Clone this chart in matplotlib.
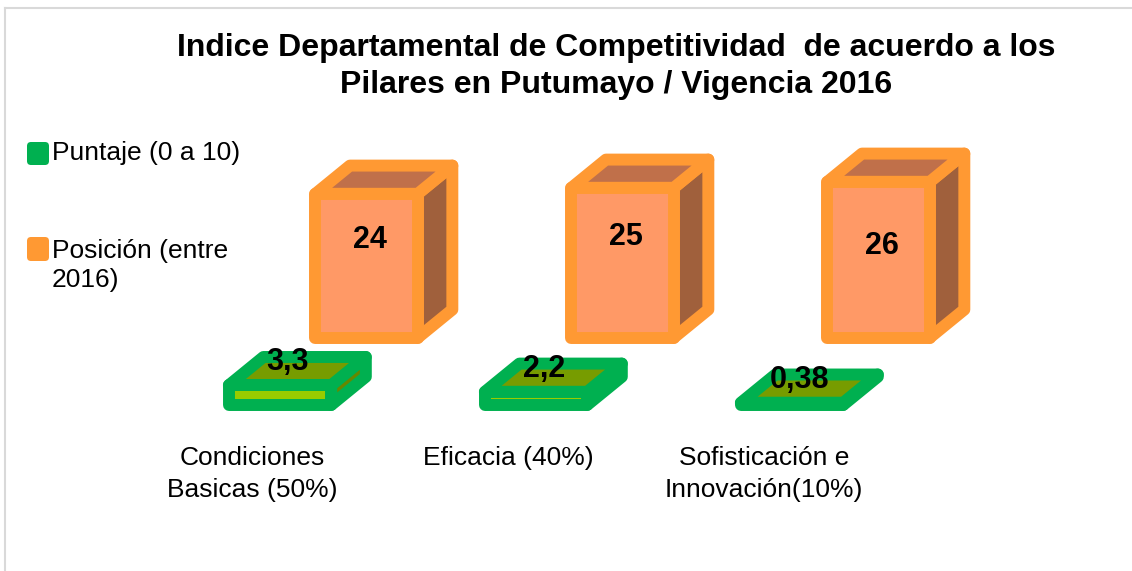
import matplotlib.pyplot as plt
from matplotlib.patches import Polygon, FancyBboxPatch
from matplotlib.lines import Line2D
from matplotlib.transforms import IdentityTransform

plt.rcParams['font.family'] = ['Liberation Sans', 'DejaVu Sans']

# datos
categorias = ['Condiciones\nBasicas (50%)', 'Eficacia (40%)', 'Sofisticación e\nInnovación(10%)']
puntaje = [3.3, 2.2, 0.38]
posicion = [24, 25, 26]
etiq_puntaje = ['3,3', '2,2', '0,38']
etiq_posicion = ['24', '25', '26']

# estilo de las cajas 3D
ancho = 0.4
prof_x = 0.135
prof_y = 4.7
lw = 8.6
fila_dx, fila_dy = 0.338, 11.2   # desplazamiento de la fila de atrás


def caja(ax, x0, y0, h, borde, frente, arriba, lado):
    frente_p = [(x0, y0), (x0 + ancho, y0), (x0 + ancho, y0 + h), (x0, y0 + h)]
    arriba_p = [(x0, y0 + h), (x0 + ancho, y0 + h),
                (x0 + ancho + prof_x, y0 + h + prof_y), (x0 + prof_x, y0 + h + prof_y)]
    lado_p = [(x0 + ancho, y0), (x0 + ancho + prof_x, y0 + prof_y),
              (x0 + ancho + prof_x, y0 + h + prof_y), (x0 + ancho, y0 + h)]
    for pts, c in [(lado_p, lado), (arriba_p, arriba), (frente_p, frente)]:
        ax.add_patch(Polygon(pts, closed=True, facecolor=c, edgecolor=borde,
                             linewidth=lw, joinstyle='round'))


fig = plt.figure(figsize=(11.32, 5.71), dpi=100)
ax = fig.add_axes([0, 0, 1, 1])
ax.set_xlim(-1.094, 3.328)
ax.set_ylim(-27.67, 67.5)
ax.axis('off')

# fila de atrás: posición
for i, v in enumerate(posicion):
    x0 = i + fila_dx - ancho / 2
    caja(ax, x0, fila_dy, v, '#FF9933', '#FF9966', '#C0704A', '#A0603C')

# fila de adelante: puntaje
for i, v in enumerate(puntaje):
    x0 = i - ancho / 2
    caja(ax, x0, 0, v, '#00B050', '#99CC00', '#779C00', '#668800')

# etiquetas de datos
ajuste = [0.5, 0, -2.5]
for i, v in enumerate(posicion):
    ax.text(i + fila_dx + 0.015, fila_dy + v - 8.2 + ajuste[i], etiq_posicion[i],
            ha='center', va='center', fontsize=22, fontweight='bold')
for i, v in enumerate(puntaje):
    ax.text(i + 0.03, v + 3.8, etiq_puntaje[i],
            ha='center', va='center', fontsize=22, fontweight='bold')

# categorías
for i, c in enumerate(categorias):
    ax.text(i - 0.11, -6.8, c, ha='center', va='top', fontsize=19, linespacing=1.45)

# título
fig.text(0.544, 0.942, 'Indice Departamental de Competitividad  de acuerdo a los\n'
         'Pilares en Putumayo / Vigencia 2016', ha='center', va='top',
         fontsize=23, fontweight='bold', linespacing=1.3)

# leyenda
alto = 571
for (y1, y2), col in [((142, 165), '#00B050'), ((237, 261), '#FF9933')]:
    fig.add_artist(FancyBboxPatch((27, alto - y2), 22, y2 - y1,
                                  boxstyle='round,pad=0,rounding_size=4',
                                  facecolor=col, edgecolor='none',
                                  transform=IdentityTransform()))
fig.text(52 / 1132, 1 - 153 / alto, 'Puntaje (0 a 10)', ha='left', va='center', fontsize=19)
fig.text(52 / 1132, 1 - 239 / alto, 'Posición (entre\n2016)', ha='left', va='top',
         fontsize=19, linespacing=1.28)

# marco
fig.add_artist(Line2D([5 / 1132, 5 / 1132], [0, 1 - 7.5 / alto], color='#D9D9D9', lw=1.5))
fig.add_artist(Line2D([5 / 1132, 1], [1 - 7.5 / alto, 1 - 7.5 / alto], color='#D9D9D9', lw=1.5))

fig.savefig('out.png', dpi=100, facecolor='white')
